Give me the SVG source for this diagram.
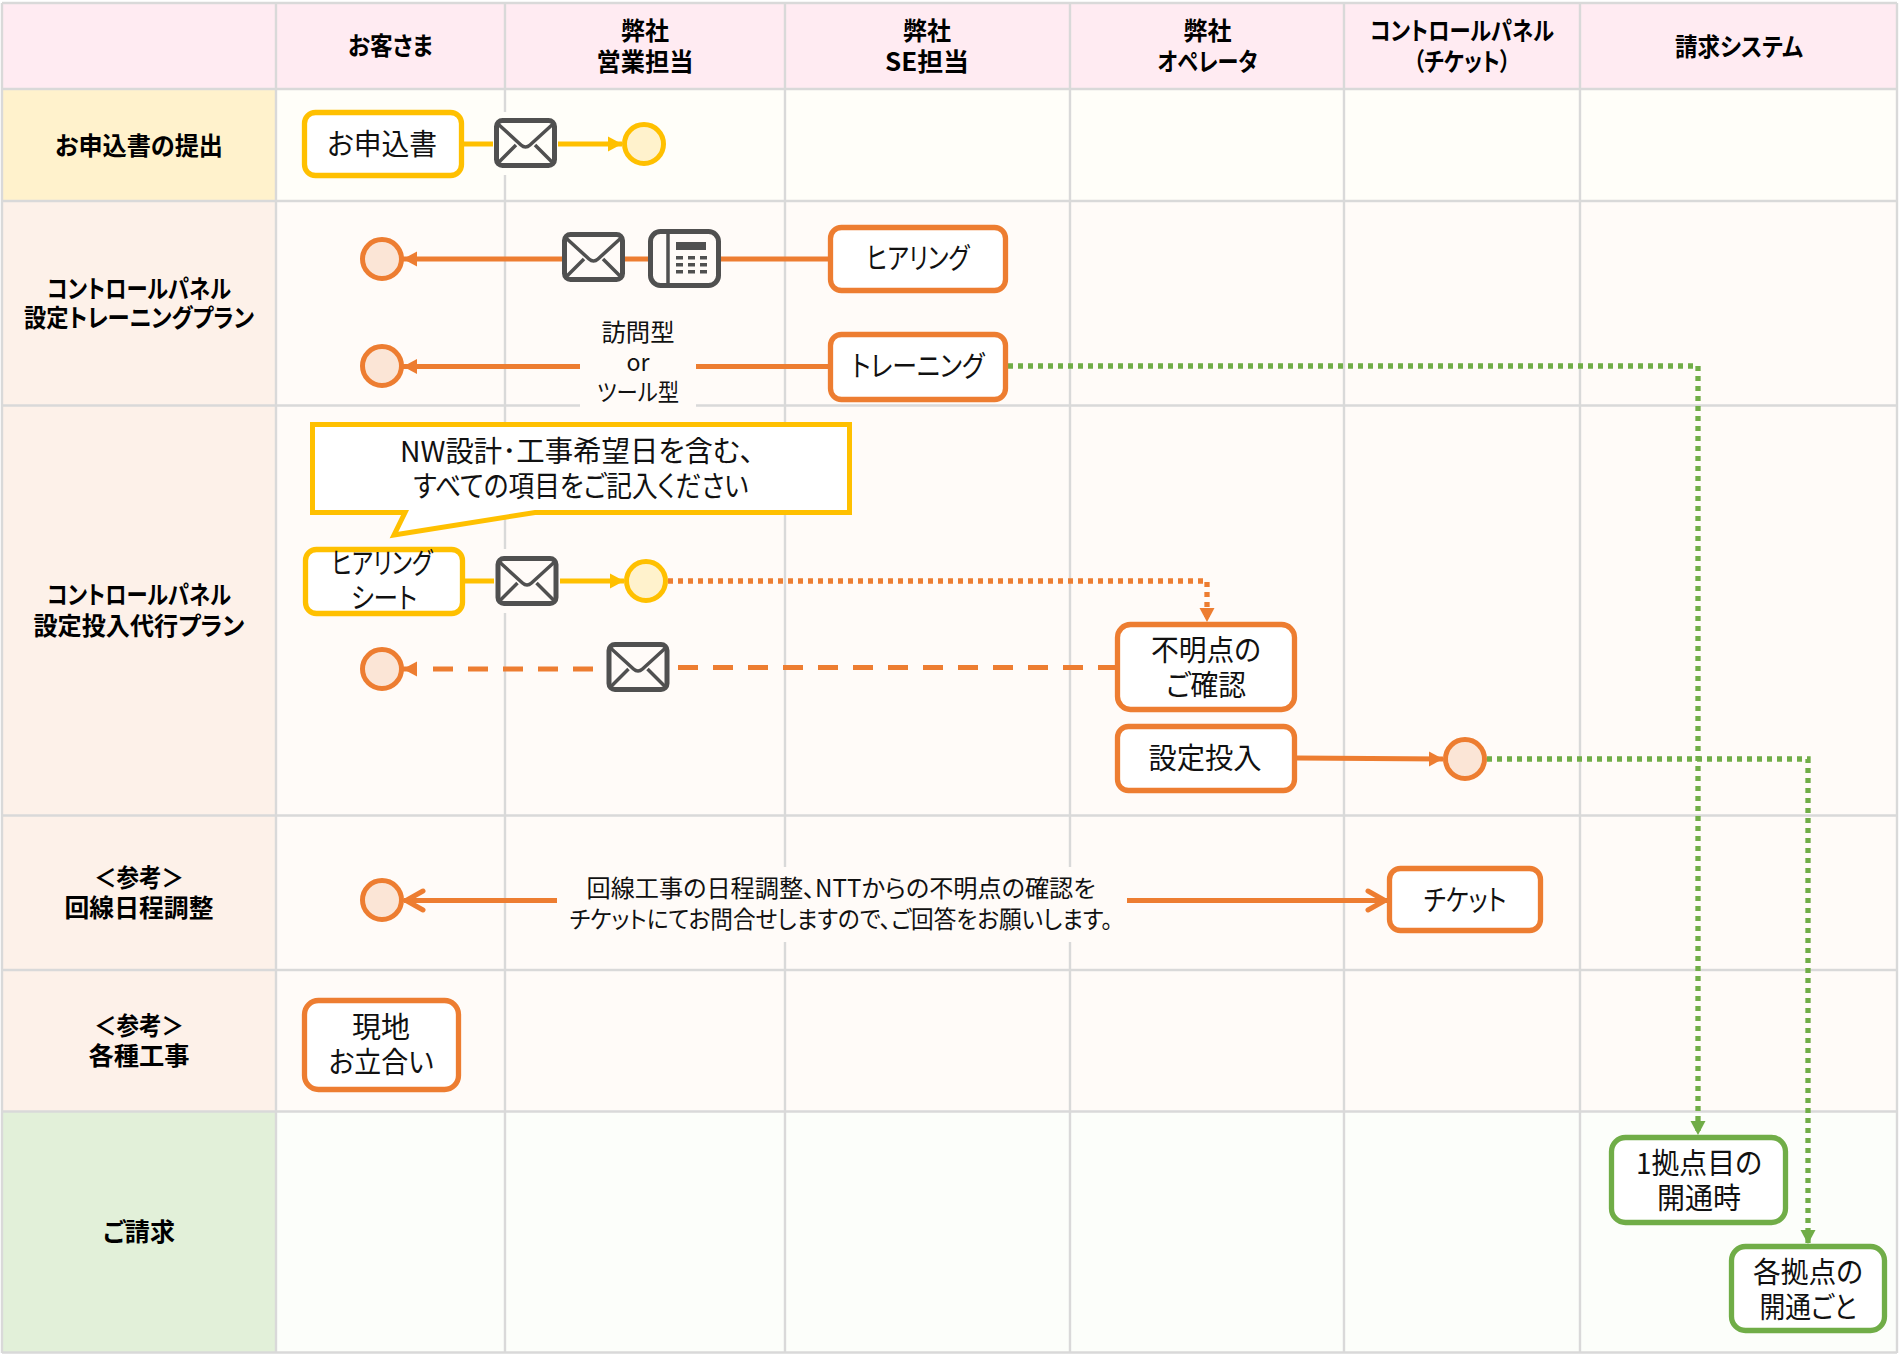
<svg xmlns="http://www.w3.org/2000/svg" xmlns:xlink="http://www.w3.org/1999/xlink" width="1900" height="1356" viewBox="0 0 1900 1356">
<style>
text{font-family:"Noto Sans CJK JP","Noto Sans",sans-serif;text-anchor:middle;fill:#000;font-feature-settings:"palt"}
.h{font-size:25px;font-weight:700}
.n{font-size:29px;font-weight:400;fill:#111}
.s{font-size:24px;font-weight:400;fill:#111}
.g{stroke:#D9D9D9;stroke-width:2.4;fill:none}
.by{fill:#fff;stroke:#FFC000;stroke-width:5.300}
.bo{fill:#fff;stroke:#ED7D31;stroke-width:5.300}
.bg{fill:#fff;stroke:#70AD47;stroke-width:5.300}
.cy{fill:#FFF2CC;stroke:#FFC000;stroke-width:5}
.co{fill:#FBE5D6;stroke:#ED7D31;stroke-width:5}
.ly{stroke:#FFC000;stroke-width:5;fill:none}
.lo{stroke:#ED7D31;stroke-width:5;fill:none}
.lg{stroke:#70AD47;stroke-width:5.300;fill:none;stroke-dasharray:5 5}
.dot{stroke-dasharray:5 5;stroke-width:5.300}
.dash{stroke-dasharray:20 15}
.ic{fill:none;stroke:#505050;stroke-width:5}
.icl{fill:none;stroke:#505050;stroke-width:3.500}
.kf{fill:#505050}
</style>
<defs>
<marker id="ay" markerUnits="userSpaceOnUse" markerWidth="15" markerHeight="18" refX="14" refY="9" orient="auto"><path d="M0 1.500L14 9L0 16.500Z" fill="#FFC000"/></marker>
<marker id="ao" markerUnits="userSpaceOnUse" markerWidth="15" markerHeight="18" refX="14" refY="9" orient="auto"><path d="M0 1.500L14 9L0 16.500Z" fill="#ED7D31"/></marker>
<marker id="ag" markerUnits="userSpaceOnUse" markerWidth="15" markerHeight="18" refX="14" refY="9" orient="auto"><path d="M0 1.500L14 9L0 16.500Z" fill="#70AD47"/></marker>
<marker id="oo" markerUnits="userSpaceOnUse" markerWidth="26" markerHeight="28" refX="23" refY="14" orient="auto"><path d="M4 4.500L21 14L4 23.500" fill="none" stroke="#ED7D31" stroke-width="5" stroke-linecap="round"/></marker>
<g id="env">
<rect x="2.500" y="2.500" width="58" height="45" rx="6" class="ic"/>
<path d="M4 6L27 27Q31.500 31 36 27L59 6M4 45L22 27M59 45L41 27" class="icl"/>
</g>
<g id="phone">
<rect x="2.500" y="2.500" width="68" height="54" rx="10" class="ic"/>
<path d="M20 3V56" class="icl"/>
<rect x="28" y="13" width="30" height="8" class="kf"/>
<path d="M28 27h7v3.500h-7zM40 27h7v3.500h-7zM52 27h7v3.500h-7zM28 34h7v3.500h-7zM40 34h7v3.500h-7zM52 34h7v3.500h-7zM28 41h7v3.500h-7zM40 41h7v3.500h-7zM52 41h7v3.500h-7z" class="kf"/>
</g>
</defs>
<rect width="1900" height="1356" fill="#fff"/>
<g id="lanes">
<rect x="2" y="3" width="1895" height="86" fill="#FFEBF2"/>
<rect x="2" y="89" width="274" height="112" fill="#FFF2CC"/>
<rect x="276" y="89" width="1621" height="112" fill="#FFFEF9"/>
<rect x="2" y="201" width="274" height="911" fill="#FDF1E9"/>
<rect x="276" y="201" width="1621" height="911" fill="#FFFBF8"/>
<rect x="2" y="1112" width="274" height="241" fill="#E2F0D9"/>
<rect x="276" y="1112" width="1621" height="241" fill="#FCFEFA"/>
<path class="g" d="M2 3V1353M276 3V1353M505 3V1353M785 3V1353M1070 3V1353M1344 3V1353M1580 3V1353M1897 3V1353"/>
<path class="g" d="M2 3H1897M2 89H1897M2 201H1897M2 405.500H1897M2 815.500H1897M2 970H1897M2 1111.500H1897M2 1352.500H1897"/>
<text class="h" x="390.500" y="55" textLength="85" lengthAdjust="spacingAndGlyphs">お客さま</text>
<text class="h" x="645" y="40" textLength="48" lengthAdjust="spacingAndGlyphs">弊社</text>
<text class="h" x="645" y="71" textLength="97" lengthAdjust="spacingAndGlyphs">営業担当</text>
<text class="h" x="927" y="40" textLength="48" lengthAdjust="spacingAndGlyphs">弊社</text>
<text class="h" x="927" y="71" textLength="84" lengthAdjust="spacingAndGlyphs">SE担当</text>
<text class="h" x="1207.500" y="40" textLength="48" lengthAdjust="spacingAndGlyphs">弊社</text>
<text class="h" x="1207.500" y="71" textLength="100" lengthAdjust="spacingAndGlyphs">オペレータ</text>
<text class="h" x="1462" y="40" textLength="184" lengthAdjust="spacingAndGlyphs">コントロールパネル</text>
<text class="h" x="1462" y="71" textLength="97" lengthAdjust="spacingAndGlyphs">（チケット）</text>
<text class="h" x="1739" y="56" textLength="128" lengthAdjust="spacingAndGlyphs">請求システム</text>
<text class="h" x="139" y="155" textLength="168" lengthAdjust="spacingAndGlyphs">お申込書の提出</text>
<text class="h" x="139" y="298" textLength="184" lengthAdjust="spacingAndGlyphs">コントロールパネル</text>
<text class="h" x="139" y="327" textLength="230" lengthAdjust="spacingAndGlyphs">設定トレーニングプラン</text>
<text class="h" x="139" y="604" textLength="184" lengthAdjust="spacingAndGlyphs">コントロールパネル</text>
<text class="h" x="139" y="635" textLength="211" lengthAdjust="spacingAndGlyphs">設定投入代行プラン</text>
<text class="h" x="139" y="887" textLength="90" lengthAdjust="spacingAndGlyphs">＜参考＞</text>
<text class="h" x="139" y="917" textLength="149" lengthAdjust="spacingAndGlyphs">回線日程調整</text>
<text class="h" x="139" y="1035" textLength="90" lengthAdjust="spacingAndGlyphs">＜参考＞</text>
<text class="h" x="139" y="1065" textLength="101" lengthAdjust="spacingAndGlyphs">各種工事</text>
<text class="h" x="139" y="1241" textLength="72" lengthAdjust="spacingAndGlyphs">ご請求</text>
</g>
<g id="connectors">
<path class="ly" d="M462 144H494"/>
<path class="ly" d="M557 144H622" marker-end="url(#ay)"/>
<path class="lo" d="M562 259H403" marker-end="url(#ao)"/>
<path class="lo" d="M625 259H648"/>
<path class="lo" d="M721 259H829"/>
<path class="lo" d="M580 366.500H403" marker-end="url(#ao)"/>
<path class="lo" d="M696 366.500H829"/>
<path class="lg" d="M1008 366H1698V1135" marker-end="url(#ag)"/>
<path class="ly" d="M464 581H495"/>
<path class="ly" d="M559 581H624" marker-end="url(#ay)"/>
<path class="lo dot" d="M668 581H1207V622" marker-end="url(#ao)"/>
<path class="lo dash" d="M678 667.500H1115"/>
<path class="lo dash" d="M433 669H593"/>
<path class="lo" d="M417 669H403" marker-end="url(#ao)"/>
<path class="lo" d="M1297 758L1443 759" marker-end="url(#ao)"/>
<path class="lg" d="M1487 759H1808V1244" marker-end="url(#ag)"/>
<path class="lo" d="M557 900.500H404" marker-end="url(#oo)"/>
<path class="lo" d="M1127 900.500H1387" marker-end="url(#oo)"/>
</g>
<g id="n-apply"><rect class="by" x="304.500" y="112.500" width="157" height="63" rx="11"/><text class="n" x="382" y="155" textLength="110" lengthAdjust="spacingAndGlyphs">お申込書</text></g>
<g id="n-env1"><rect x="493" y="112" width="65" height="63" fill="#FFFEF9"/><use href="#env" x="494" y="118"/></g>
<g id="n-evt1"><circle class="cy" cx="644" cy="144" r="19.500"/></g>
<g id="n-evt2"><circle class="co" cx="382" cy="259" r="19.500"/></g>
<g id="n-env2"><use href="#env" x="562" y="232"/></g>
<g id="n-phone"><use href="#phone" x="648" y="229"/></g>
<g id="n-hearing"><rect class="bo" x="830.500" y="227.500" width="175" height="63" rx="11"/><text class="n" x="918" y="269" textLength="103" lengthAdjust="spacingAndGlyphs">ヒアリング</text></g>
<g id="n-evt3"><circle class="co" cx="382" cy="366" r="19.500"/></g>
<g id="n-visit"><rect x="580" y="318" width="116" height="90" fill="#FFFBF8"/>
<text class="s" x="638" y="341" textLength="73" lengthAdjust="spacingAndGlyphs">訪問型</text>
<text class="s" x="638" y="371" textLength="23" lengthAdjust="spacingAndGlyphs">or</text>
<text class="s" x="638" y="401" textLength="82" lengthAdjust="spacingAndGlyphs">ツール型</text></g>
<g id="n-training"><rect class="bo" x="830.500" y="334.500" width="175" height="65" rx="11"/><text class="n" x="918" y="377" textLength="133" lengthAdjust="spacingAndGlyphs">トレーニング</text></g>
<g id="n-callout"><path d="M312.500 424.500H849.500V512.500H535L394 535L405 512.500H312.500Z" fill="#fff" stroke="#FFC000" stroke-width="5"/>
<text class="n" x="577" y="462" textLength="354" lengthAdjust="spacingAndGlyphs">NW設計･工事希望日を含む、</text>
<text class="n" x="581" y="497" textLength="335" lengthAdjust="spacingAndGlyphs">すべての項目をご記入ください</text></g>
<g id="n-sheet"><rect class="by" x="305.500" y="549.500" width="157" height="64" rx="11"/>
<text class="n" x="382" y="574" textLength="101" lengthAdjust="spacingAndGlyphs">ヒアリング</text>
<text class="n" x="384" y="609" textLength="66" lengthAdjust="spacingAndGlyphs">シート</text></g>
<g id="n-env3"><rect x="494" y="549" width="66" height="64" fill="#FFFBF8"/><use href="#env" x="495.500" y="556"/></g>
<g id="n-evt4"><circle class="cy" cx="646" cy="581" r="19.500"/></g>
<g id="n-evt5"><circle class="co" cx="382" cy="669" r="19.500"/></g>
<g id="n-env4"><use href="#env" x="606.500" y="642"/></g>
<g id="n-confirm"><rect class="bo" x="1117.500" y="624.500" width="177" height="85" rx="13"/>
<text class="n" x="1206" y="661" textLength="110" lengthAdjust="spacingAndGlyphs">不明点の</text>
<text class="n" x="1206" y="696" textLength="80" lengthAdjust="spacingAndGlyphs">ご確認</text></g>
<g id="n-config"><rect class="bo" x="1117.500" y="726.500" width="177" height="64" rx="11"/><text class="n" x="1205" y="769" textLength="113" lengthAdjust="spacingAndGlyphs">設定投入</text></g>
<g id="n-evt6"><circle class="co" cx="1465" cy="759" r="19.500"/></g>
<g id="n-evt7"><circle class="co" cx="382" cy="900" r="19.500"/></g>
<g id="n-note"><rect x="557" y="867" width="570" height="75" fill="#FFFBF8"/>
<text class="s" x="841" y="897" textLength="509" lengthAdjust="spacingAndGlyphs">回線工事の日程調整、NTTからの不明点の確認を</text>
<text class="s" x="841" y="928" textLength="543" lengthAdjust="spacingAndGlyphs">チケットにてお問合せしますので、ご回答をお願いします。</text></g>
<g id="n-ticket"><rect class="bo" x="1389.500" y="868.500" width="151" height="62" rx="11"/><text class="n" x="1465" y="911" textLength="83" lengthAdjust="spacingAndGlyphs">チケット</text></g>
<g id="n-onsite"><rect class="bo" x="304.500" y="1000.500" width="154" height="89" rx="14"/>
<text class="n" x="381" y="1038" textLength="58" lengthAdjust="spacingAndGlyphs">現地</text>
<text class="n" x="381" y="1073" textLength="105" lengthAdjust="spacingAndGlyphs">お立合い</text></g>
<g id="n-first"><rect class="bg" x="1611.500" y="1137.500" width="174" height="85" rx="14"/>
<text class="n" x="1699" y="1174" textLength="126" lengthAdjust="spacingAndGlyphs">1拠点目の</text>
<text class="n" x="1699" y="1209" textLength="84" lengthAdjust="spacingAndGlyphs">開通時</text></g>
<g id="n-each"><rect class="bg" x="1731.500" y="1246.500" width="153" height="84" rx="14"/>
<text class="n" x="1808" y="1283" textLength="110" lengthAdjust="spacingAndGlyphs">各拠点の</text>
<text class="n" x="1808" y="1318" textLength="97" lengthAdjust="spacingAndGlyphs">開通ごと</text></g>
</svg>
